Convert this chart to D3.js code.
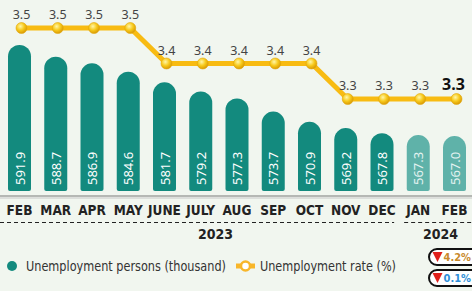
<!DOCTYPE html>
<html>
<head>
<meta charset="utf-8">
<script src="https://cdn.jsdelivr.net/npm/d3@7"></script>
<style>
  body { margin: 0; background: #f1f6ef; }
  svg { display: block; font-family: "DejaVu Sans Condensed", sans-serif; }
</style>
</head>
<body>
<div id="viz"></div>
<script>
var months = ['FEB', 'MAR', 'APR', 'MAY', 'JUNE', 'JULY', 'AUG', 'SEP', 'OCT', 'NOV', 'DEC', 'JAN', 'FEB'];
var persons = [591.9, 588.7, 586.9, 584.6, 581.7, 579.2, 577.3, 573.7, 570.9, 569.2, 567.8, 567.3, 567.0];
var rate = [3.5, 3.5, 3.5, 3.5, 3.4, 3.4, 3.4, 3.4, 3.4, 3.3, 3.3, 3.3, 3.3];
var years = [{label: '2023', from: 0, to: 10}, {label: '2024', from: 11, to: 12}];
var changes = [{text: '4.2%', color: '#c98a2c'}, {text: '0.1%', color: '#2f8fd8'}];

var width = 472;
var height = 291;
var barWidth = 23;
var barBottom = 191;

var idx = months.map((m, i) => i);

var xScale = d3.scalePoint().domain(idx).range([19.5, 454.5]);
var yBar = d3.scaleLinear().domain([552, 591.9]).range([barBottom, 45]);
var yRate = d3.scaleLinear().domain([3.3, 3.5]).range([99, 28]);

var svg = d3.select('#viz')
  .append('svg')
  .attr('width', width)
  .attr('height', height)

var defs = svg.append('defs')
var grad = defs.append('radialGradient').attr('id', 'dotGrad')
  .attr('cx', '40%').attr('cy', '35%').attr('r', '65%')
grad.append('stop').attr('offset', '0%').attr('stop-color', '#fff6a8')
grad.append('stop').attr('offset', '55%').attr('stop-color', '#f7c91a')
grad.append('stop').attr('offset', '100%').attr('stop-color', '#d99a06')

svg.append('rect').attr('width', width).attr('height', height).attr('fill', '#f1f6ef')

// bars: rounded top, small rounding at the bottom
function barPath(d, i) {
  var x0 = xScale(i) - barWidth / 2;
  var x1 = x0 + barWidth;
  var r = barWidth / 2;
  var top = yBar(d);
  var b = 2;
  return `M${x0},${top + r} A${r},${r} 0 0 1 ${x1},${top + r} L${x1},${barBottom - b} Q${x1},${barBottom} ${x1 - b},${barBottom} L${x0 + b},${barBottom} Q${x0},${barBottom} ${x0},${barBottom - b} Z`;
}

svg.append('g').selectAll('path').data(persons)
  .enter().append('path')
  .attr('d', barPath)
  .attr('fill', (d, i) => i >= 11 ? '#5fb2a9' : '#138a7e')

svg.append('g').selectAll('text').data(persons)
  .enter().append('text')
  .attr('transform', (d, i) => `translate(${xScale(i) + 5},${barBottom - 6}) rotate(-90)`)
  .attr('fill', (d, i) => i >= 11 ? '#e4f3f1' : '#ffffff')
  .attr('font-family', '"Noto Sans", sans-serif')
  .attr('font-size', 13)
  .text(d => d.toFixed(1))

// axis double line
svg.append('line').attr('x1', 0).attr('x2', width).attr('y1', 196).attr('y2', 196)
  .attr('stroke', '#7a7a7a').attr('stroke-width', 1.2)
svg.append('line').attr('x1', 0).attr('x2', width).attr('y1', 198).attr('y2', 198)
  .attr('stroke', '#c8c8c8').attr('stroke-width', 1)

svg.append('g').selectAll('text').data(months)
  .enter().append('text')
  .attr('x', (d, i) => xScale(i))
  .attr('y', 215)
  .attr('text-anchor', 'middle')
  .attr('font-weight', 'bold')
  .attr('font-size', 13.5)
  .attr('fill', '#222')
  .text(d => d)

// year brackets
var step = xScale.step();
years.forEach((y, k) => {
  var x0 = k === 0 ? 0 : xScale(y.from) - step / 2 + 4;
  var x1 = k === 0 ? xScale(y.to) + step / 2 - 6 : width;
  svg.append('line').attr('x1', x0).attr('x2', x1).attr('y1', 222.5).attr('y2', 222.5)
    .attr('stroke', '#222').attr('stroke-width', 1.2).attr('stroke-dasharray', '4,3')
  svg.append('text')
    .attr('x', k === 0 ? 233 : 423)
    .attr('y', 239)
    .attr('text-anchor', k === 0 ? 'end' : 'start')
    .attr('font-weight', 'bold')
    .attr('font-size', 14)
    .attr('fill', '#222')
    .text(y.label)
})

// rate line
var line = d3.line().x((d, i) => xScale(i) + 2).y(d => yRate(d))
svg.append('path').datum(rate)
  .attr('d', line)
  .attr('fill', 'none')
  .attr('stroke', '#f8bb12')
  .attr('stroke-width', 5)
  .attr('stroke-linejoin', 'round')

svg.append('g').selectAll('circle').data(rate)
  .enter().append('circle')
  .attr('cx', (d, i) => xScale(i) + 2)
  .attr('cy', d => yRate(d))
  .attr('r', 5.5)
  .attr('fill', 'url(#dotGrad)')
  .attr('stroke', '#e2a80a')
  .attr('stroke-width', 0.6)

svg.append('g').selectAll('text').data(rate)
  .enter().append('text')
  .attr('x', (d, i) => xScale(i) + 2 - (i === rate.length - 1 ? 3 : 0))
  .attr('y', d => yRate(d) - 9)
  .attr('text-anchor', 'middle')
  .attr('font-family', '"Noto Sans", sans-serif')
  .attr('font-size', (d, i) => i === rate.length - 1 ? 16 : 12.5)
  .attr('font-weight', (d, i) => i === rate.length - 1 ? 'bold' : 'normal')
  .attr('fill', (d, i) => i === rate.length - 1 ? '#111' : '#444')
  .text(d => d.toFixed(1))

// legend
svg.append('circle').attr('cx', 12).attr('cy', 266).attr('r', 5).attr('fill', '#138a7e')
svg.append('text').attr('x', 26).attr('y', 271).attr('font-size', 13.5).attr('fill', '#333')
  .attr('textLength', 200).attr('lengthAdjust', 'spacingAndGlyphs')
  .text('Unemployment persons (thousand)')

svg.append('line').attr('x1', 236).attr('x2', 255).attr('y1', 266).attr('y2', 266)
  .attr('stroke', '#f8b62a').attr('stroke-width', 5)
svg.append('circle').attr('cx', 245.5).attr('cy', 266).attr('r', 4.5)
  .attr('fill', '#fff').attr('stroke', '#f8b62a').attr('stroke-width', 2.5)
svg.append('text').attr('x', 260).attr('y', 271).attr('font-size', 13.5).attr('fill', '#333')
  .attr('textLength', 136).attr('lengthAdjust', 'spacingAndGlyphs')
  .text('Unemployment rate (%)')

// change boxes
changes.forEach((c, k) => {
  var y0 = 249 + k * 21;
  svg.append('rect').attr('x', 429).attr('y', y0).attr('width', 60).attr('height', 16)
    .attr('rx', 8).attr('fill', '#fff').attr('stroke', '#111').attr('stroke-width', 2)
  svg.append('path')
    .attr('d', `M432.5,${y0 + 3} L442.5,${y0 + 3} L437.5,${y0 + 13} Z`)
    .attr('fill', '#e0201b')
  svg.append('text').attr('x', 443.5).attr('y', y0 + 12)
    .attr('font-size', 11).attr('font-weight', 'bold').attr('fill', c.color)
    .text(c.text)
})
</script>
</body>
</html>
